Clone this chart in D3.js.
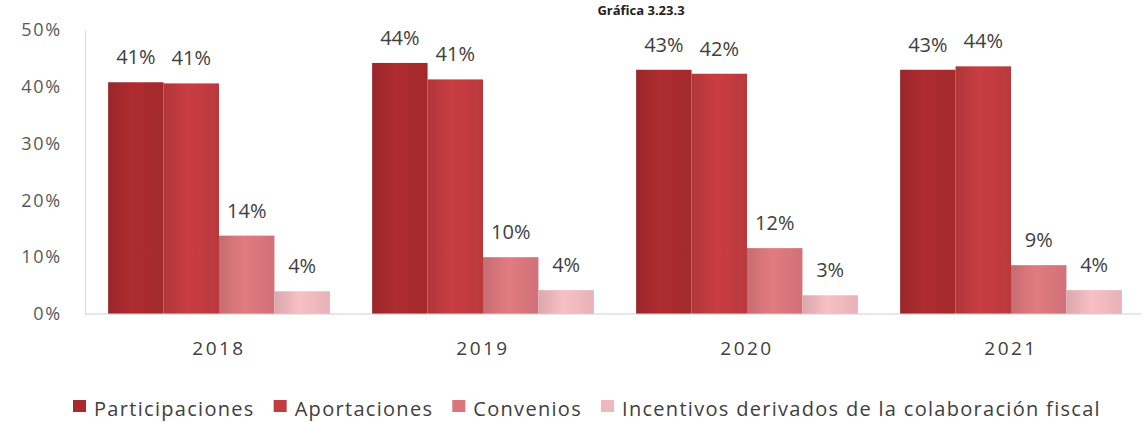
<!DOCTYPE html>
<html>
<head>
<meta charset="utf-8">
<script src="https://cdn.jsdelivr.net/npm/d3@7"></script>
<style>
  html, body { margin: 0; padding: 0; background: #fff; }
  svg { display: block; font-family: "Open Sans", sans-serif; }
</style>
</head>
<body>
<svg id="chart" width="1147" height="422"></svg>
<script>
const title = "Gráfica 3.23.3";
const years = ["2018", "2019", "2020", "2021"];
const seriesNames = ["Participaciones", "Aportaciones", "Convenios", "Incentivos derivados de la colaboración fiscal"];
const participaciones = [40.8, 44.2, 43.0, 43.0];
const aportaciones = [40.6, 41.3, 42.3, 43.6];
const convenios = [13.8, 10.0, 11.6, 8.6];
const incentivos = [4.0, 4.2, 3.3, 4.2];
const yTicks = [0, 10, 20, 30, 40, 50];
const colors = ["#a82a2e", "#c13b3f", "#d8767c", "#eeb8bd"];

const seriesValues = [participaciones, aportaciones, convenios, incentivos];
const data = years.map((y, i) => ({ year: y, values: seriesValues.map((s, k) => ({ key: k, value: s[i] })) }));

const svg = d3.select("#chart");
const plot = { left: 85, right: 1141, top: 30, bottom: 314 };

// gradients to mimic the shaded bars
const defs = svg.append("defs");
colors.forEach((c, k) => {
  const g = defs.append("linearGradient").attr("id", "grad" + k).attr("x1", "0%").attr("x2", "100%").attr("y1", "0%").attr("y2", "0%");
  const base = d3.color(c);
  g.append("stop").attr("offset", "0%").attr("stop-color", base.darker(0.25));
  g.append("stop").attr("offset", "45%").attr("stop-color", base.brighter(0.12));
  g.append("stop").attr("offset", "100%").attr("stop-color", base.darker(0.1));
});

// title (at the very top edge)
svg.append("text").attr("x", 641).attr("y", 15).attr("text-anchor", "middle")
  .attr("font-weight", "bold").attr("font-size", 13).attr("fill", "#222").text(title);

const y = d3.scaleLinear().domain([0, 50]).range([plot.bottom, plot.top]);
const x0 = d3.scaleBand().domain(years).range([87, 1143]).paddingInner(0.16).paddingOuter(0.08);
const x1 = d3.scaleBand().domain(d3.range(seriesNames.length)).range([0, x0.bandwidth()]).padding(0);

// y axis
const yAxis = d3.axisLeft(y).tickValues(yTicks).tickFormat(d => d + "%").tickSize(0).tickPadding(23);
const gy = svg.append("g").attr("transform", `translate(${plot.left},0)`).call(yAxis);
gy.select(".domain").attr("stroke", "#d9d9d9");
gy.selectAll("text").attr("font-size", 18).attr("fill", "#595959").attr("letter-spacing", 1.8)
  .attr("font-family", "Open Sans, sans-serif");

// bars
const groups = svg.append("g").selectAll("g").data(data).join("g")
  .attr("transform", d => `translate(${x0(d.year)},0)`);
groups.selectAll("rect").data(d => d.values).join("rect")
  .attr("x", d => x1(d.key))
  .attr("width", x1.bandwidth())
  .attr("y", d => y(d.value))
  .attr("height", d => y(0) - y(d.value))
  .attr("fill", d => `url(#grad${d.key})`);
groups.selectAll("text.val").data(d => d.values).join("text").attr("class", "val")
  .attr("x", d => x1(d.key) + x1.bandwidth() / 2)
  .attr("y", d => y(d.value) - 18)
  .attr("text-anchor", "middle")
  .attr("font-size", 20).attr("fill", "#404040")
  .text(d => Math.round(d.value) + "%");

// x axis
const xAxis = d3.axisBottom(x0).tickSize(0).tickPadding(28);
const gx = svg.append("g").attr("transform", `translate(0,${plot.bottom})`).call(xAxis);
gx.select(".domain").remove();
gx.append("line").attr("x1", plot.left).attr("x2", plot.right).attr("y1", 0).attr("y2", 0).attr("stroke", "#d0d0d0");
gx.selectAll("text").attr("font-size", 19).attr("fill", "#404040").attr("letter-spacing", 2.5)
  .attr("font-family", "Open Sans, sans-serif");

// legend
const legend = svg.append("g");
let lx = 73;
seriesNames.forEach((name, k) => {
  legend.append("rect").attr("x", lx).attr("y", 400).attr("width", 13).attr("height", 12).attr("fill", colors[k]);
  const t = legend.append("text").attr("x", lx + 21).attr("y", 416)
    .attr("font-size", 20).attr("letter-spacing", 1.3).attr("fill", "#404040").text(name);
  lx += 21 + t.node().getComputedTextLength() + 19;
});
</script>
</body>
</html>
